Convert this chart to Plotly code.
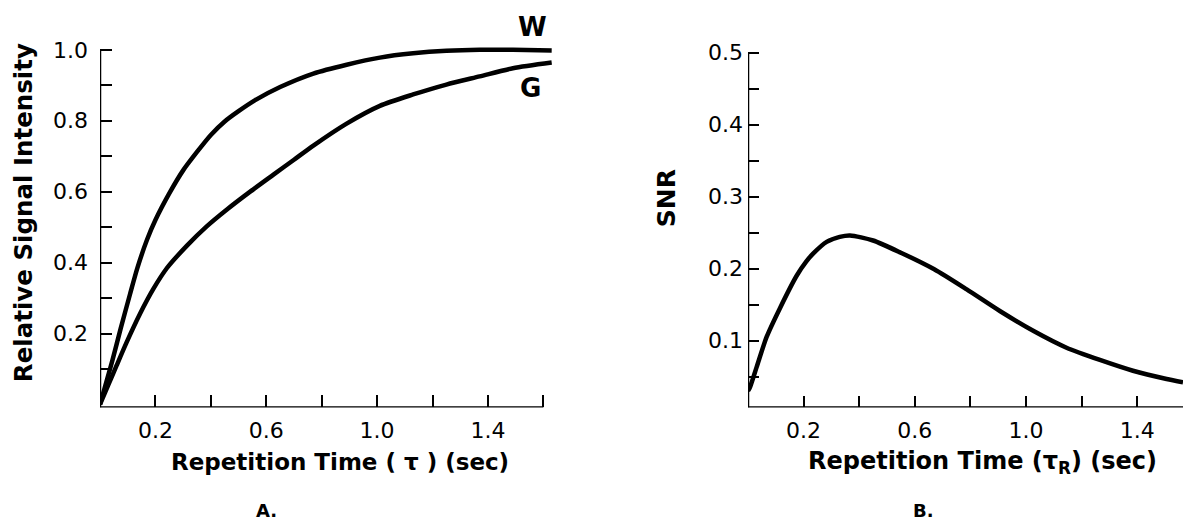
import plotly.graph_objects as go

# ---- Panel A: relative signal intensity vs repetition time ----
tr_w = [0, 0.02, 0.045, 0.075, 0.108, 0.135, 0.17, 0.2, 0.25, 0.3, 0.35, 0.4,
        0.45, 0.5, 0.56, 0.65, 0.77, 0.89, 1.01, 1.13, 1.25, 1.37, 1.49, 1.63]
sig_w = [0, 0.055, 0.125, 0.215, 0.31, 0.385, 0.465, 0.52, 0.595, 0.66, 0.712, 0.76,
         0.798, 0.827, 0.858, 0.895, 0.933, 0.958, 0.978, 0.99, 0.997, 1.0, 1.0, 0.998]

tr_g = [0, 0.03, 0.06, 0.096, 0.144, 0.192, 0.241, 0.313, 0.385, 0.457, 0.542,
        0.626, 0.7, 0.77, 0.89, 1.01, 1.13, 1.25, 1.37, 1.49, 1.63]
sig_g = [0, 0.055, 0.11, 0.175, 0.255, 0.325, 0.384, 0.447, 0.502, 0.549, 0.6,
         0.648, 0.69, 0.73, 0.792, 0.842, 0.874, 0.902, 0.925, 0.948, 0.964]

# ---- Panel B: SNR vs repetition time ----
tr_snr = [0.0, 0.007, 0.031, 0.067, 0.115, 0.175, 0.21, 0.235, 0.283, 0.33, 0.367,
          0.45, 0.55, 0.67, 0.787, 0.906, 1.026, 1.146, 1.266, 1.385, 1.506, 1.565]
snr = [0.03, 0.035, 0.063, 0.105, 0.145, 0.19, 0.21, 0.221, 0.237, 0.244, 0.246,
       0.239, 0.222, 0.199, 0.171, 0.141, 0.1135, 0.09, 0.073, 0.058, 0.0466, 0.042]

# ---- ticks ----
a_xticks = [0.2, 0.6, 1.0, 1.4]
a_xticklabels = ["0.2", "0.6", "1.0", "1.4"]
a_xminor = [0.4, 0.8, 1.2, 1.6]
a_yticks = [0.2, 0.4, 0.6, 0.8, 1.0]
a_yticklabels = ["0.2", "0.4", "0.6", "0.8", "1.0"]
a_yminor = [0.1, 0.3, 0.5, 0.7, 0.9]

b_xticks = [0.2, 0.6, 1.0, 1.4]
b_xticklabels = ["0.2", "0.6", "1.0", "1.4"]
b_xminor = [0.4, 0.8, 1.2]
b_yticks = [0.1, 0.2, 0.3, 0.4, 0.5]
b_yticklabels = ["0.1", "0.2", "0.3", "0.4", "0.5"]
b_yminor = [0.05, 0.15, 0.25, 0.35, 0.45]

FONT = "DejaVu Sans"
W, H = 1183, 527

fig = go.Figure()

line_style = dict(color="black", width=4.5, shape="spline", smoothing=0.7)
fig.add_trace(go.Scatter(x=tr_w, y=sig_w, mode="lines", line=line_style,
                         xaxis="x", yaxis="y", showlegend=False, hoverinfo="skip"))
fig.add_trace(go.Scatter(x=tr_g, y=sig_g, mode="lines", line=line_style,
                         xaxis="x", yaxis="y", showlegend=False, hoverinfo="skip"))
fig.add_trace(go.Scatter(x=tr_snr, y=snr, mode="lines", line=line_style,
                         xaxis="x2", yaxis="y2", showlegend=False, hoverinfo="skip"))

tick_font = dict(family=FONT, size=22, color="black")


def axis_style(vals, texts, minor_vals, standoff, ticklen):
    return dict(showgrid=False, zeroline=False, showline=False, ticks="inside",
                ticklen=ticklen, tickwidth=2, tickcolor="black", tickfont=tick_font,
                tickmode="array", tickvals=vals, ticktext=texts,
                ticklabelstandoff=standoff, fixedrange=True,
                minor=dict(tickmode="array", tickvals=minor_vals, ticks="inside",
                           ticklen=ticklen, tickwidth=2, tickcolor="black",
                           showgrid=False))


a_ymin, b_ymin = -0.0085, 0.007

fig.update_layout(
    width=W, height=H,
    margin=dict(l=0, r=0, t=0, b=0),
    paper_bgcolor="white", plot_bgcolor="white",
    xaxis=dict(domain=[100 / W, 560 / W], range=[0, 1.66], anchor="y",
               **axis_style(a_xticks, a_xticklabels, a_xminor, 8, 12)),
    yaxis=dict(domain=[120 / H, (H - 37.3) / H], range=[a_ymin, 1.03], anchor="x",
               **axis_style(a_yticks, a_yticklabels, a_yminor, 11, 12)),
    xaxis2=dict(domain=[748 / W, 1.0], range=[0, 1.565], anchor="y2",
                **axis_style(b_xticks, b_xticklabels, b_xminor, 8, 11)),
    yaxis2=dict(domain=[120 / H, (H - 40) / H], range=[b_ymin, 0.515], anchor="x2",
                **axis_style(b_yticks, b_yticklabels, b_yminor, 4, 11)),
)

# axis lines
axis_line = dict(color="black", width=2.5)
fig.add_shape(type="line", xref="x", yref="y", x0=0, x1=0, y0=a_ymin, y1=1.0, line=axis_line)
fig.add_shape(type="line", xref="x", yref="y", x0=0, x1=1.6, y0=a_ymin, y1=a_ymin, line=axis_line)
fig.add_shape(type="line", xref="x2", yref="y2", x0=0, x1=0, y0=b_ymin, y1=0.5, line=axis_line)
fig.add_shape(type="line", xref="x2", yref="y2", x0=0, x1=1.565, y0=b_ymin, y1=b_ymin, line=axis_line)


def label(text, x, y, size, angle=0):
    fig.add_annotation(text=text, x=x / W, y=(H - y) / H, xref="paper", yref="paper",
                       showarrow=False, textangle=angle, xanchor="center", yanchor="middle",
                       font=dict(family=FONT, size=size, color="black", weight="bold"))


label("Relative Signal Intensity", 23, 212, 24.5, -90)
label("SNR", 666, 197, 25, -90)
label("Repetition Time ( τ ) (sec)", 340, 462, 23)
label("Repetition Time (τ<sub>R</sub>) (sec)", 982, 462, 24)
label("A.", 266, 510, 18)
label("B.", 923, 510, 18)
label("W", 532, 25, 26)
label("G", 530, 86, 26)

fig.write_html("out.html")
